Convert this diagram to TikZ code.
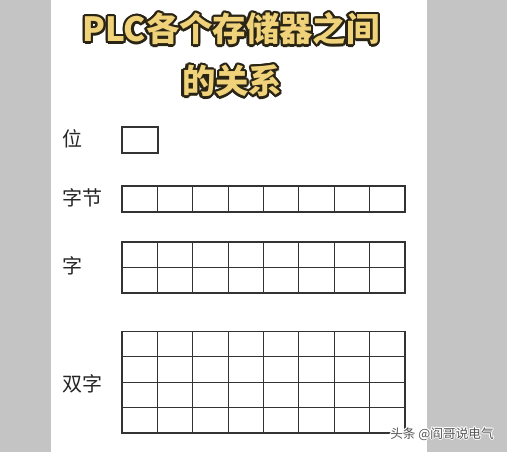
\documentclass[tikz,border=0pt]{standalone}
\usepackage{fontspec}
\newfontfamily\cjk{Noto Sans CJK SC}
\definecolor{bggray}{HTML}{C4C4C4}
\definecolor{gold}{HTML}{F0D27A}
\definecolor{outline}{HTML}{2A2414}
\definecolor{gridline}{HTML}{333333}
\definecolor{wmgray}{HTML}{555555}
\tikzset{
  lbl/.style={font=\cjk\fontsize{15}{15}\selectfont, text=black!85, anchor=west, inner sep=0pt},
  cellgrid/.style={draw=gridline, line width=0.8pt},
  ttl/.style={font=\cjk\bfseries\fontsize{25}{25}\selectfont, inner sep=0pt},
  wm/.style={font=\cjk\fontsize{9.5}{9.5}\selectfont, inner sep=0pt, anchor=west}
}
\newcommand{\outlinedtitle}[4]{%
  \foreach \a in {0,22.5,...,337.5} {
    \node[ttl, text=outline] at ([shift={(\a:1.7pt)}]#1,#2) {#3};
  }
  \node[ttl, text=gold] (#4) at (#1,#2) {#3};
}
\begin{document}
\begin{tikzpicture}[x=0.75pt,y=-0.75pt]
\useasboundingbox (0,0) rectangle (507,452);
\fill[bggray] (0,0) rectangle (507,452);
\fill[white] (51,0) rectangle (427,452);
% title
\outlinedtitle{231}{29}{PLC各个存储器之间}{title1}
\outlinedtitle{232}{81}{的关系}{title2}
% labels
\node[lbl] (lbit) at (62,139) {位};
\node[lbl] (lbyte) at (62,198) {字节};
\node[lbl] (lword) at (62,266) {字};
\node[lbl] (ldword) at (62,384) {双字};
% grids
\draw[cellgrid] (122,127) rectangle (158,153);
\draw[cellgrid] (122,186) rectangle (405,212);
\foreach \i in {1,...,7} \draw[cellgrid] (122+\i*35.375,186) -- (122+\i*35.375,212);
\draw[cellgrid] (122,242) rectangle (405,293);
\draw[cellgrid] (122,267.5) -- (405,267.5);
\foreach \i in {1,...,7} \draw[cellgrid] (122+\i*35.375,242) -- (122+\i*35.375,293);
\draw[cellgrid] (122,331.5) rectangle (405,433);
\foreach \j in {1,2,3} \draw[cellgrid] (122,331.5+\j*25.375) -- (405,331.5+\j*25.375);
\foreach \i in {1,...,7} \draw[cellgrid] (122+\i*35.375,331.5) -- (122+\i*35.375,433);
% watermark
\foreach \a in {0,45,...,315} {
  \node[wm, text=white] at ([shift={(\a:0.8pt)}]390,434) {头条 @阎哥说电气};
}
\node[wm, text=wmgray] (wmark) at (390,434) {头条 @阎哥说电气};
\end{tikzpicture}
\end{document}
